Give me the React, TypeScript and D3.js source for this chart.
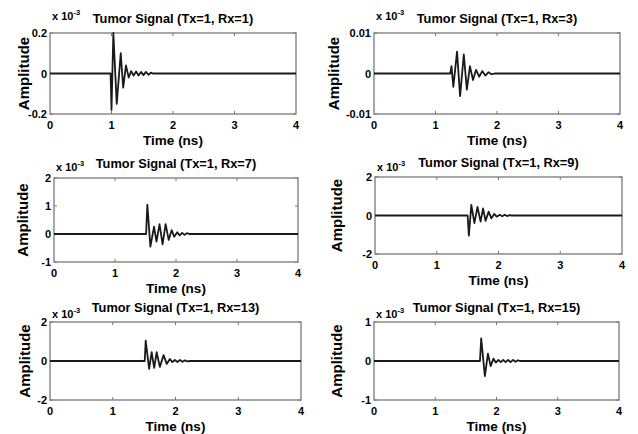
import React, { useEffect, useRef } from "react";
import * as d3 from "d3";

// tumor signal values, amplitude in units of 1e-3
const panelTitles = [
  "Tumor Signal (Tx=1, Rx=1)",
  "Tumor Signal (Tx=1, Rx=3)",
  "Tumor Signal (Tx=1, Rx=7)",
  "Tumor Signal (Tx=1, Rx=9)",
  "Tumor Signal (Tx=1, Rx=13)",
  "Tumor Signal (Tx=1, Rx=15)",
];
const timeTicks = [0, 1, 2, 3, 4];
const ampDomains: [number, number][] = [
  [-0.2, 0.2],
  [-0.01, 0.01],
  [-1, 2],
  [-2, 2],
  [-2, 2],
  [-1, 1],
];
const ampTicks = [
  [-0.2, 0, 0.2],
  [-0.01, 0, 0.01],
  [-1, 0, 1, 2],
  [-2, 0, 2],
  [-2, 0, 2],
  [-1, 0, 1],
];

const rx1Signal: [number, number][] = [
  [0, 0], [0.985, 0], [1.0, -0.18], [1.03, 0.2], [1.085, -0.15], [1.15, 0.1],
  [1.19, -0.07], [1.235, 0.04], [1.28, -0.02], [1.32, 0.012], [1.36, -0.01],
  [1.4, 0.01], [1.44, -0.01], [1.48, 0.008], [1.52, -0.008], [1.56, 0.008],
  [1.6, -0.006], [1.64, 0.004], [1.67, 0], [4, 0],
];
const rx3Signal: [number, number][] = [
  [0, 0], [1.24, 0], [1.26, 0.0018], [1.29, -0.0033], [1.35, 0.0054],
  [1.4, -0.0056], [1.46, 0.0047], [1.51, -0.004], [1.56, 0.0018],
  [1.61, -0.0016], [1.66, 0.0009], [1.71, -0.0008], [1.76, 0.0006],
  [1.81, -0.0005], [1.86, 0.0003], [1.91, -0.0002], [1.96, 0], [4, 0],
];
const rx7Signal: [number, number][] = [
  [0, 0], [1.51, 0], [1.53, 1.05], [1.58, -0.45], [1.64, 0.26], [1.68, -0.27],
  [1.73, 0.35], [1.78, -0.37], [1.83, 0.35], [1.88, -0.21], [1.93, 0.14],
  [1.97, -0.1], [2.02, 0.06], [2.06, -0.05], [2.1, 0.04], [2.14, -0.03],
  [2.18, 0.03], [2.22, 0], [4, 0],
];
const rx9Signal: [number, number][] = [
  [0, 0], [1.5, 0], [1.52, -1.05], [1.56, 0.55], [1.61, -0.4], [1.66, 0.45],
  [1.71, -0.32], [1.75, 0.37], [1.79, -0.28], [1.84, 0.2], [1.885, -0.15],
  [1.93, 0.08], [1.97, -0.06], [2.02, 0.04], [2.06, -0.04], [2.1, 0.04],
  [2.14, -0.03], [2.18, 0.02], [2.21, 0], [4, 0],
];
const rx13Signal: [number, number][] = [
  [0, 0], [1.51, 0], [1.525, 1.05], [1.58, -0.4], [1.62, 0.45], [1.66, -0.35],
  [1.7, 0.45], [1.75, -0.3], [1.81, 0.3], [1.86, -0.15], [1.91, 0.1],
  [1.95, -0.06], [1.99, 0.05], [2.03, -0.05], [2.07, 0.05], [2.11, -0.04],
  [2.15, 0.03], [2.19, -0.02], [2.23, 0], [4, 0],
];
const rx15Signal: [number, number][] = [
  [0, 0], [1.73, 0], [1.75, 0.58], [1.81, -0.39], [1.86, 0.19], [1.905, -0.13],
  [1.95, 0.06], [1.99, -0.04], [2.03, 0.03], [2.07, -0.03], [2.11, 0.03],
  [2.15, -0.03], [2.19, 0.03], [2.23, -0.03], [2.27, 0.03], [2.31, -0.02],
  [2.35, 0.02], [2.38, 0], [4, 0],
];
const signals = [rx1Signal, rx3Signal, rx7Signal, rx9Signal, rx13Signal, rx15Signal];

// axes boxes (px) + where the loose labels sit
const layout = [
  { left: 50, right: 296, top: 33, bottom: 114, ylabX: 28.5, expDy: 13 },
  { left: 374, right: 620, top: 33, bottom: 114, ylabX: 338.5, expDy: 13 },
  { left: 54, right: 298, top: 178, bottom: 262, ylabX: 27.5, expDy: 7 },
  { left: 375, right: 622, top: 177, bottom: 254, ylabX: 342, expDy: 6 },
  { left: 50, right: 301, top: 322, bottom: 400, ylabX: 30, expDy: 4 },
  { left: 374, right: 619, top: 322, bottom: 400, ylabX: 342, expDy: 4 },
];

const FONT = "'Liberation Sans', Arial, sans-serif";

const App: React.FC = () => {
  const svgRef = useRef<SVGSVGElement | null>(null);

  useEffect(() => {
    const svg = d3.select(svgRef.current);
    svg.selectAll("*").remove();

    layout.forEach((box, i) => {
      const g = svg.append("g").style("font-family", FONT).style("font-weight", "bold");
      const x = d3.scaleLinear().domain([0, 4]).range([box.left, box.right]);
      const y = d3.scaleLinear().domain(ampDomains[i]).range([box.bottom, box.top]);
      const tl = 3;

      g.append("rect")
        .attr("x", box.left)
        .attr("y", box.top)
        .attr("width", box.right - box.left)
        .attr("height", box.bottom - box.top)
        .attr("fill", "#fff")
        .attr("stroke", "#8a8a8a")
        .attr("stroke-width", 1.5);

      // inward ticks
      timeTicks.slice(1, -1).forEach((t) => {
        g.append("line").attr("x1", x(t)).attr("x2", x(t))
          .attr("y1", box.bottom).attr("y2", box.bottom - tl)
          .attr("stroke", "#777").attr("stroke-width", 1);
        g.append("line").attr("x1", x(t)).attr("x2", x(t))
          .attr("y1", box.top).attr("y2", box.top + tl)
          .attr("stroke", "#777").attr("stroke-width", 1);
      });
      ampTicks[i].forEach((v) => {
        g.append("line").attr("x1", box.left).attr("x2", box.left + tl)
          .attr("y1", y(v)).attr("y2", y(v))
          .attr("stroke", "#777").attr("stroke-width", 1);
        g.append("line").attr("x1", box.right).attr("x2", box.right - tl)
          .attr("y1", y(v)).attr("y2", y(v))
          .attr("stroke", "#777").attr("stroke-width", 1);
      });

      const line = d3
        .line<[number, number]>()
        .x((d) => x(d[0]))
        .y((d) => y(d[1]));
      g.append("path")
        .datum(signals[i])
        .attr("d", line)
        .attr("fill", "none")
        .attr("stroke", "#1a1a1a")
        .attr("stroke-width", 1.8)
        .attr("stroke-linejoin", "round");

      g.selectAll(".xt")
        .data(timeTicks)
        .enter()
        .append("text")
        .attr("x", (d) => x(d))
        .attr("y", box.bottom + 14.5)
        .attr("text-anchor", "middle")
        .style("font-size", "11px")
        .text((d) => String(d));

      g.selectAll(".yt")
        .data(ampTicks[i])
        .enter()
        .append("text")
        .attr("x", box.left - 3)
        .attr("y", (d) => y(d) + 4)
        .attr("text-anchor", "end")
        .style("font-size", "11px")
        .text((d) => String(d));

      g.append("text")
        .attr("x", (box.left + box.right) / 2)
        .attr("y", box.top - 10)
        .attr("text-anchor", "middle")
        .style("font-size", "12.8px")
        .text(panelTitles[i]);

      const ex = g.append("text")
        .attr("x", box.left + 2)
        .attr("y", box.top - box.expDy)
        .style("font-size", "11px");
      ex.append("tspan").text("x 10");
      ex.append("tspan").attr("dy", -5).style("font-size", "7.5px").text("-3");

      g.append("text")
        .attr("transform", `translate(${box.ylabX},${(box.top + box.bottom) / 2}) rotate(-90)`)
        .attr("text-anchor", "middle")
        .style("font-size", "15px")
        .text("Amplitude");

      g.append("text")
        .attr("x", (box.left + box.right) / 2)
        .attr("y", box.bottom + 31)
        .attr("text-anchor", "middle")
        .style("font-size", "13.5px")
        .text("Time (ns)");
    });
  }, []);

  return (
    <div style={{ position: "absolute", left: 0, top: 0, background: "#fff" }}>
      <svg ref={svgRef} width={638} height={434}></svg>
    </div>
  );
};

export default App;
